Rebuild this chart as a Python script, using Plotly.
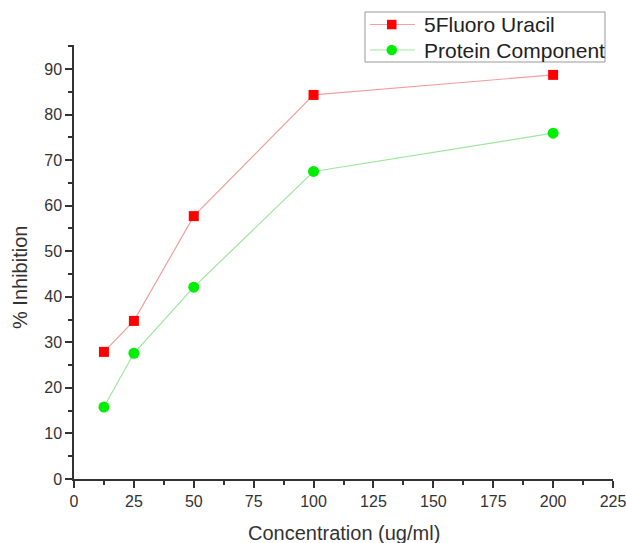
import plotly.graph_objects as go

concentration = [12.5, 25, 50, 100, 200]
fluoro_uracil = [27.9, 34.7, 57.7, 84.3, 88.7]
protein_component = [15.8, 27.6, 42.1, 67.5, 75.9]
series_names = ["5Fluoro Uracil", "Protein Component"]

x_ticks = [0, 25, 50, 75, 100, 125, 150, 175, 200, 225]
y_ticks = [0, 10, 20, 30, 40, 50, 60, 70, 80, 90]

W, H = 626, 543
L, R, T, B = 74, 13, 45, 64
PW, PH = W - L - R, H - T - B


def px(x):
    return (x - L) / PW


def py(y):
    return (H - B - y) / PH


RED_LINE, RED_MK = "#f2a0a0", "#ff0000"
GRN_LINE, GRN_MK = "#9de69d", "#00ee00"
TXT = "#333333"
FONT = "Liberation Sans, Arial"

fig = go.Figure()
fig.add_trace(go.Scatter(
    x=concentration, y=fluoro_uracil, name=series_names[0],
    mode="lines+markers", showlegend=False,
    line=dict(color=RED_LINE, width=1.2),
    marker=dict(symbol="square", size=10, color=RED_MK),
))
fig.add_trace(go.Scatter(
    x=concentration, y=protein_component, name=series_names[1],
    mode="lines+markers", showlegend=False,
    line=dict(color=GRN_LINE, width=1.2),
    marker=dict(symbol="circle", size=11, color=GRN_MK),
))

axis_common = dict(
    showline=True, linecolor=TXT, linewidth=1.5,
    ticks="outside", ticklen=7, tickwidth=1.5, tickcolor=TXT,
    showgrid=False, zeroline=False, automargin=False,
    ticklabeloverflow="allow",
    tickfont=dict(family=FONT, size=16, color=TXT),
)

shapes = [
    # legend box
    dict(type="rect", xref="paper", yref="paper",
         x0=px(365), x1=px(605), y0=py(62), y1=py(12),
         line=dict(color="#999999", width=1), fillcolor="white", layer="above"),
    # legend row 1
    dict(type="line", xref="paper", yref="paper",
         x0=px(370), x1=px(415), y0=py(24.5), y1=py(24.5),
         line=dict(color=RED_LINE, width=1.2), layer="above"),
    dict(type="rect", xref="paper", yref="paper",
         x0=px(387), x1=px(396.5), y0=py(29.3), y1=py(19.8),
         line=dict(width=0), fillcolor=RED_MK, layer="above"),
    # legend row 2
    dict(type="line", xref="paper", yref="paper",
         x0=px(370), x1=px(415), y0=py(50), y1=py(50),
         line=dict(color=GRN_LINE, width=1.2), layer="above"),
    dict(type="circle", xref="paper", yref="paper",
         x0=px(386.5), x1=px(397), y0=py(55.3), y1=py(44.8),
         line=dict(width=0), fillcolor=GRN_MK, layer="above"),
]

annotations = [
    dict(text=series_names[0], xref="paper", yref="paper", x=px(422), y=py(24.5),
         xanchor="left", yanchor="middle", showarrow=False,
         font=dict(family=FONT, size=21, color="#222222")),
    dict(text=series_names[1], xref="paper", yref="paper", x=px(422), y=py(50),
         xanchor="left", yanchor="middle", showarrow=False,
         font=dict(family=FONT, size=21, color="#222222")),
    dict(text="Concentration (ug/ml)", xref="paper", yref="paper", x=0.5, y=py(533),
         xanchor="center", yanchor="middle", showarrow=False,
         font=dict(family=FONT, size=20, color=TXT)),
    dict(text="% Inhibition", xref="paper", yref="paper", x=px(20), y=py(278),
         xanchor="center", yanchor="middle", showarrow=False, textangle=-90,
         font=dict(family=FONT, size=20, color=TXT)),
]

fig.update_layout(
    width=W, height=H,
    margin=dict(l=L, r=R, t=T, b=B),
    paper_bgcolor="white", plot_bgcolor="white",
    font=dict(family=FONT, color=TXT),
    showlegend=False,
    xaxis=dict(
        range=[0, 225], tickvals=x_ticks,
        minor=dict(ticks="outside", ticklen=4, tickwidth=1.5, tickcolor=TXT, dtick=12.5, tick0=0),
        **axis_common,
    ),
    yaxis=dict(
        range=[0, 95.26], tickvals=y_ticks,
        minor=dict(ticks="outside", ticklen=4, tickwidth=1.5, tickcolor=TXT, dtick=5, tick0=0),
        **axis_common,
    ),
    shapes=shapes,
    annotations=annotations,
)

fig.write_html("out.html")
